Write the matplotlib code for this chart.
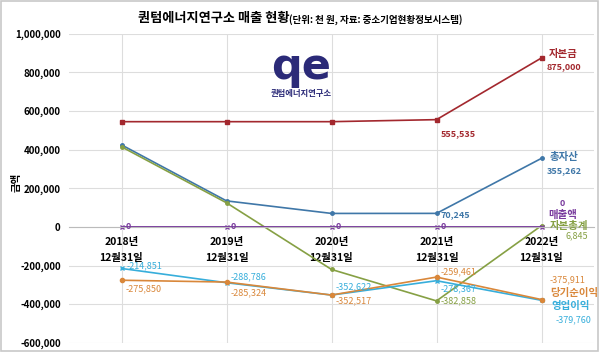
import matplotlib
matplotlib.use("Agg")
import matplotlib.pyplot as plt
from matplotlib.ticker import FuncFormatter
from matplotlib.patches import Rectangle

plt.rcParams['font.family'] = ['Noto Sans CJK KR', 'DejaVu Sans']

years = ['2018년\n12월31일', '2019년\n12월31일', '2020년\n12월31일', '2021년\n12월31일', '2022년\n12월31일']
capital = [545000, 545000, 545000, 555535, 875000]          # 자본금
assets = [425000, 135000, 70000, 70245, 355262]             # 총자산
equity = [415000, 125000, -220000, -382858, 6845]           # 자본총계
sales = [0, 0, 0, 0, 0]                                     # 매출액
op_income = [-214851, -288786, -352622, -278367, -379760]   # 영업이익
net_income = [-275850, -285324, -352517, -259461, -375911]  # 당기순이익

c_cap = '#a3282e'
c_ast = '#3f77a8'
c_eq = '#86a044'
c_sal = '#7a3c9e'
c_op = '#37aedb'
c_net = '#d9873a'

fig = plt.figure(figsize=(6, 3.52), dpi=100)
fig.patches.append(Rectangle((0.002, 0.003), 0.995, 0.994, transform=fig.transFigure,
                             fill=False, ec='#c8c8c8', lw=1.2))
ax = fig.add_axes([0.115, 0.026, 0.875, 0.878])
x = list(range(len(years)))

ax.set_xlim(-0.5, len(years) - 0.5)
ax.set_ylim(-600000, 1000000)
ax.set_yticks(range(-600000, 1000001, 200000))
ax.yaxis.set_major_formatter(FuncFormatter(lambda v, p: f'{int(v):,}'))
ax.grid(True, color='#dddddd', lw=0.8)
ax.set_axisbelow(True)
for s in ['left', 'right', 'top']:
    ax.spines[s].set_visible(False)
ax.spines['bottom'].set_position(('data', 0))
ax.spines['bottom'].set_color('#bbbbbb')
ax.tick_params(axis='y', length=0, labelsize=7, pad=6)
ax.tick_params(axis='x', length=0, labelsize=7.5, pad=7)
ax.set_xticks(x)
ax.set_xticklabels(years, fontweight='bold', linespacing=1.75)
for t in ax.get_yticklabels():
    t.set_fontweight('bold')
ax.set_ylabel('금액', fontsize=7.5, fontweight='bold', labelpad=6)
ax.yaxis.set_label_coords(-0.09, 0.52)

ax.plot(x, capital, color=c_cap, lw=1.2, marker='s', ms=3.5)
ax.plot(x, assets, color=c_ast, lw=1.2, marker='o', ms=2.5)
ax.plot(x, equity, color=c_eq, lw=1.2, marker='o', ms=2.5)
ax.plot(x, op_income, color=c_op, lw=1.2, marker='x', ms=3)
ax.plot(x, net_income, color=c_net, lw=1.2, marker='o', ms=3)
ax.plot(x, sales, color=c_sal, lw=1.4, marker='x', ms=3)


def lab(xi, yi, txt, color, dx, dy, size=6.5, ha='left', bold=False):
    ax.annotate(txt, (xi, yi), xytext=(dx, dy), textcoords='offset points',
                color=color, fontsize=size, ha=ha, va='center',
                fontweight='bold' if bold else 'normal')


f = lambda v: f'{v:,}'
# 자본금
lab(3, capital[3], f(capital[3]), c_cap, 3, -10, bold=True)
lab(4, capital[4], '자본금', c_cap, 5, 3, size=7.5, bold=True)
lab(4, capital[4], f(capital[4]), c_cap, 4, -6, bold=True)
# 총자산
lab(3, assets[3], f(assets[3]), c_ast, 3, -1, bold=True)
lab(4, assets[4], '총자산', c_ast, 6, 1, size=7.5, bold=True)
lab(4, assets[4], f(assets[4]), c_ast, 4, -9, bold=True)
# 매출액
for i in range(4):
    lab(i, sales[i], '0', c_sal, 3, 0, bold=True)
lab(4, sales[4], '0', c_sal, 13, 17, bold=True)
lab(4, sales[4], '매출액', c_sal, 5, 9, size=7.5, bold=True)
# 자본총계
lab(3, equity[3], f(equity[3]), c_eq, 3, 0)
lab(4, equity[4], '자본총계', c_eq, 6, 0, size=7.5, bold=True)
lab(4, equity[4], f(equity[4]), c_eq, 17, -7)
# 영업이익
lab(0, op_income[0], f(op_income[0]), c_op, 4, 2)
lab(1, op_income[1], f(op_income[1]), c_op, 3, 4)
lab(2, op_income[2], f(op_income[2]), c_op, 3, 6)
lab(3, op_income[3], f(op_income[3]), c_op, 3, -6)
lab(4, op_income[4], '영업이익', c_op, 7, -4, size=7.5, bold=True)
lab(4, op_income[4], f(op_income[4]), c_op, 10, -14)
# 당기순이익
lab(0, net_income[0], f(net_income[0]), c_net, 3, -6)
lab(1, net_income[1], f(net_income[1]), c_net, 3, -8)
lab(2, net_income[2], f(net_income[2]), c_net, 3, -4)
lab(3, net_income[3], f(net_income[3]), c_net, 3, 4)
lab(4, net_income[4], f(net_income[4]), c_net, 6, 14)
lab(4, net_income[4], '당기순이익', c_net, 6, 5, size=7.5, bold=True)

# title
fig.text(0.23, 0.949, '퀀텀에너지연구소 매출 현황', fontsize=9.5, fontweight='bold', va='center')
fig.text(0.482, 0.946, '(단위: 천 원, 자료: 중소기업현황정보시스템)', fontsize=6.9,
         fontweight='bold', va='center')

# logo
fig.text(0.502, 0.81, 'qe', fontsize=31, fontweight='heavy', color='#2b2a78',
         ha='center', va='center', family='DejaVu Sans')
fig.text(0.502, 0.735, '퀀텀에너지연구소', fontsize=6, fontweight='bold', color='#2b2a78',
         ha='center', va='center')

plt.savefig('out.png', dpi=100)
